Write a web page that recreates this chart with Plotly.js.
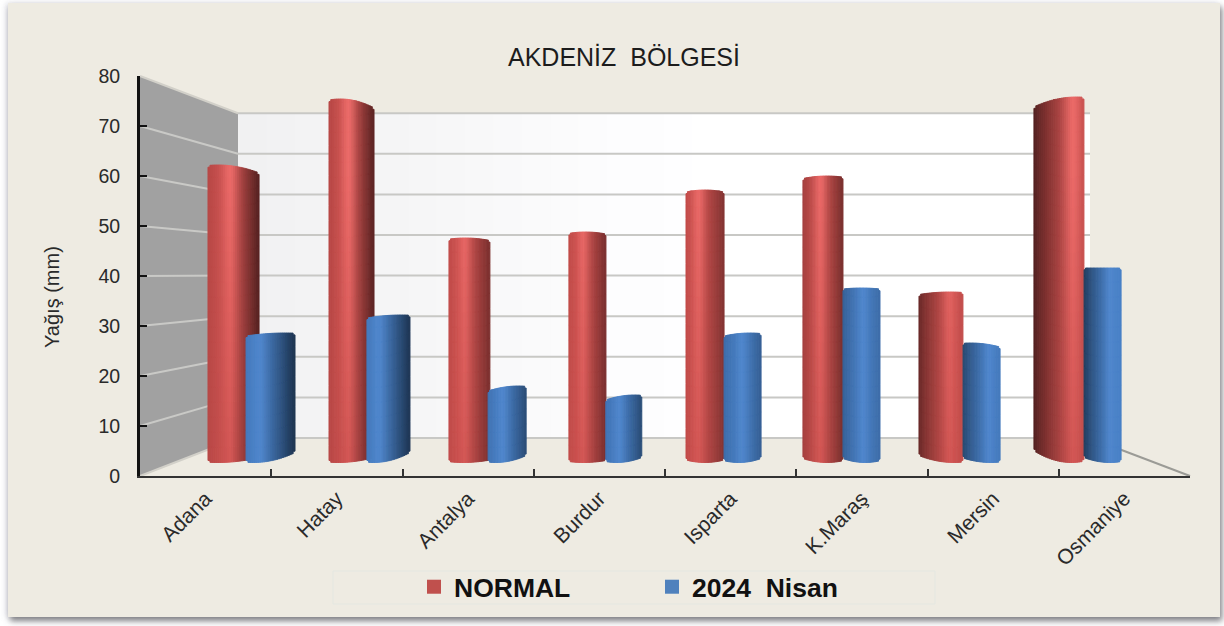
<!DOCTYPE html>
<html>
<head>
<meta charset="utf-8">
<script src="https://cdn.plot.ly/plotly-3.0.1.min.js"></script>
<style>
html,body{margin:0;padding:0;background:#fff;width:1224px;height:626px;overflow:hidden}
#panel{position:absolute;left:8px;top:3px;width:1212px;height:614px;background:#EEEBE2;box-shadow:2px 4px 6px rgba(90,90,95,.75),-2px 0 6px rgba(170,170,190,.35)}
#chart{position:absolute;left:0;top:0;width:1224px;height:626px}
</style>
</head>
<body>
<div id="panel"></div>
<div id="chart"></div>
<script>
// ---- values ----
const categories = ["Adana","Hatay","Antalya","Burdur","Isparta","K.Maraş","Mersin","Osmaniye"];
const normalValues = [62.2,75.4,47.6,48.8,57.2,60.0,36.8,75.8];
const nisanValues  = [28.6,32.2,18.0,16.2,28.6,37.6,26.6,41.6];
const yTicks = [0,10,20,30,40,50,60,70,80];
const chartTitle = "AKDENİZ\u00a0 BÖLGESİ";
const yTitle = "Yağış (mm)";
const normalName = "NORMAL";
const nisanName = "2024\u00a0 Nisan";

// ---- perspective look of each cylinder (category units / axis units) ----
const normalOffset = [.018,-.060,-.146,-.232,-.340,-.449,-.565,-.689];
const normalWidth  = [.389,.343,.312,.282,.290,.305,.335,.381];
const nisanOffset  = [.308,.229,.152,.049,-.050,-.144,-.229,-.307];
const nisanWidth   = [.373,.328,.290,.274,.282,.282,.282,.282];
const floorLevel = 2.7;
const normalTopPeak = [.2,.25,.4,.45,.5,.6,.7,.85];
const normalTopDrop = [1.6,1.8,.5,.4,.4,.5,.5,2.0];
const normalBotPeak = [.2,.2,.35,.4,.5,.6,.8,.75];
const normalBotRise = [1.0,1.0,.5,.4,.5,.8,1.4,2.4];
const nisanTopPeak = [.8,.8,.8,.8,.7,.5,.2,.5];
const nisanTopDrop = [.6,.6,1.0,1.0,.6,.2,.8,0];
const nisanBotPeak = [.15,.15,.2,.3,.4,.6,.75,.7];
const nisanBotRise = [2.0,2.0,1.4,1.0,.8,.8,.9,1.0];
const normalDarkL = [.9,.9,.95,.95,.95,.8,.5,.38];
const normalHigh  = [.45,.45,.4,.4,.35,.45,.7,.78];
const normalDarkR = [.42,.45,.6,.6,.65,.6,.95,.95];
const nisanDarkL = [.95,.95,.9,.9,.85,.75,.55,.45];
const nisanHigh  = [.3,.3,.4,.4,.5,.55,.7,.7];
const nisanDarkR = [.4,.42,.6,.6,.75,.85,.95,1];
const redBase = [203,80,78], blueBase = [72,128,198];

const STRIPS = 26, SEG = 3;
function shade(base, t, dl, h, dr, hl, strength){
  const s = t < h ? dl + (1-dl)*Math.pow(t/h,.8) : 1 - (1-dr)*Math.pow((t-h)/(1-h),1.1);
  const g = Math.exp(-Math.pow((t-h)/.18,2))*strength;
  return 'rgb(' + base.map((c,k)=>Math.round(Math.min(255,c*s + hl[k]*g))).join(',') + ')';
}
function cylinderTrace(vals, off, wid, tp, td, bp, br, dl, hh, dr, base, hl, sMin){
  const x=[],y=[],b=[],w=[],o=[],col=[];
  vals.forEach((v,i)=>{
    for(let j=0;j<STRIPS;j++){
      const t=(j+.5)/STRIPS;
      const edge=Math.min(t,1-t);
      const corner= edge<.05 ? .35 : 0;
      const tq=(t-tp[i])/Math.max(tp[i],1-tp[i]);
      const bq=(t-bp[i])/Math.max(bp[i],1-bp[i]);
      const top=v-td[i]*tq*tq-corner;
      const bot=floorLevel+br[i]*bq*bq+corner;
      for(let s=bot;s<top;s+=SEG){
        const e=Math.min(top,s+SEG);
        const vv=(s+e)/2/75;
        x.push(categories[i]); b.push(s); y.push(e-s);
        w.push(wid[i]/STRIPS); o.push(off[i]+wid[i]*j/STRIPS);
        col.push(shade(base,t,dl[i],hh[i],dr[i],hl,sMin+(1-sMin)*Math.min(1,vv*1.25)));
      }
    }
  });
  return {type:'bar',x,y,base:b,width:w,offset:o,marker:{color:col,line:{color:col,width:1}},showlegend:false,hoverinfo:'skip'};
}
const traces=[
  cylinderTrace(normalValues,normalOffset,normalWidth,normalTopPeak,normalTopDrop,normalBotPeak,normalBotRise,normalDarkL,normalHigh,normalDarkR,redBase,[32,26,26],.2),
  cylinderTrace(nisanValues,nisanOffset,nisanWidth,nisanTopPeak,nisanTopDrop,nisanBotPeak,nisanBotRise,nisanDarkL,nisanHigh,nisanDarkR,blueBase,[8,7,7],.9),
  {type:'scatter',mode:'markers',x:[null],y:[null],name:normalName,marker:{symbol:'square',size:14,color:'#C0504D'},hoverinfo:'skip'},
  {type:'scatter',mode:'markers',x:[null],y:[null],name:nisanName,marker:{symbol:'square',size:14,color:'#4F81BD'},hoverinfo:'skip'}
];

// plot-area helpers for the pseudo-3D room
const L=140,R=1190,T=76,B=476;
const px=v=>(v-L)/(R-L), py=v=>(B-v)/(B-T);
const backL=238, backR=1090, backBot=438, backPx=40.6;
const shapes=[];
function rect(x0,y0,x1,y1,fill){shapes.push({type:'rect',xref:'paper',yref:'paper',layer:'below',x0:px(x0),x1:px(x1),y0:py(y0),y1:py(y1),fillcolor:fill,line:{width:0}});}
function line(x0,y0,x1,y1,c,w){shapes.push({type:'line',xref:'paper',yref:'paper',layer:'below',x0:px(x0),x1:px(x1),y0:py(y0),y1:py(y1),line:{color:c,width:w}});}
const backTop=backBot-8*backPx;
for(let k=0;k<30;k++){
  const x0=backL+(backR-backL)*k/30,x1=backL+(backR-backL)*(k+1)/30+1;
  const c=Math.round(241+14*Math.min(1,k/30*1.9));
  rect(x0,backTop,Math.min(x1,backR),backBot,`rgb(${c},${c},${Math.min(255,c+1)})`);
}
shapes.push({type:'path',xref:'paper',yref:'paper',layer:'below',
  path:`M${px(L)},${py(T)} L${px(backL)},${py(backTop)} L${px(backL)},${py(backBot)} L${px(L)},${py(B)} Z`,
  fillcolor:'#A1A1A1',line:{width:0}});
yTicks.forEach(v=>{
  const front=B-v*5, back=backBot-v/10*backPx;
  const c = v===0||v===80 ? '#D2D0C9' : '#C9C9C6';
  line(L,front,backL,back,c,2);
  line(backL,back,backR,back,'#C8C8C5',2);
});
line(backR,backBot,R,B,'#9B9B96',2);
// legend frame
rect(333,571,935,604,'rgba(0,0,0,0)');
shapes[shapes.length-1].line={color:'#E4E7E1',width:1};

const layout={
  width:1224,height:626,
  margin:{l:L,r:1224-R,t:T,b:626-B,pad:0},
  paper_bgcolor:'rgba(0,0,0,0)',plot_bgcolor:'rgba(0,0,0,0)',
  font:{family:'"Liberation Sans",Arial,sans-serif',color:'#2a2a2a'},
  barmode:'overlay',
  title:{text:chartTitle,x:624/1224,xanchor:'center',y:1-57/626,yanchor:'middle',font:{size:25,color:'#1c1c1c'}},
  xaxis:{type:'category',categoryorder:'array',categoryarray:categories,range:[-.5,7.5],tickson:'boundaries',
    ticks:'inside',ticklen:7,tickwidth:2,tickcolor:'#333',showgrid:false,zeroline:false,
    showline:true,linecolor:'#333',linewidth:2,tickangle:-45,tickfont:{size:21,color:'#2a2a2a'},automargin:false,fixedrange:true},
  yaxis:{range:[0,80],tickvals:yTicks,ticks:'inside',ticklen:7,tickwidth:2,tickcolor:'#111',showgrid:false,zeroline:false,
    showline:true,linecolor:'#111',linewidth:3,tickfont:{size:19.5,color:'#2a2a2a'},ticklabelstandoff:13,automargin:false,fixedrange:true},
  legend:{orientation:'h',x:px(414),xanchor:'left',y:py(587),yanchor:'middle',bgcolor:'rgba(0,0,0,0)',
    font:{size:26.5,color:'#111',family:'"Liberation Sans",Arial,sans-serif',weight:'bold'},
    entrywidth:193,entrywidthmode:'pixels',itemclick:false,itemdoubleclick:false},
  annotations:[{xref:'paper',yref:'paper',x:px(52),y:py(297),text:yTitle,textangle:-90,showarrow:false,
    xanchor:'center',yanchor:'middle',font:{size:20,color:'#2a2a2a'}}],
  shapes
};
Plotly.newPlot('chart',traces,layout,{displayModeBar:false,staticPlot:true});
</script>
</body>
</html>
